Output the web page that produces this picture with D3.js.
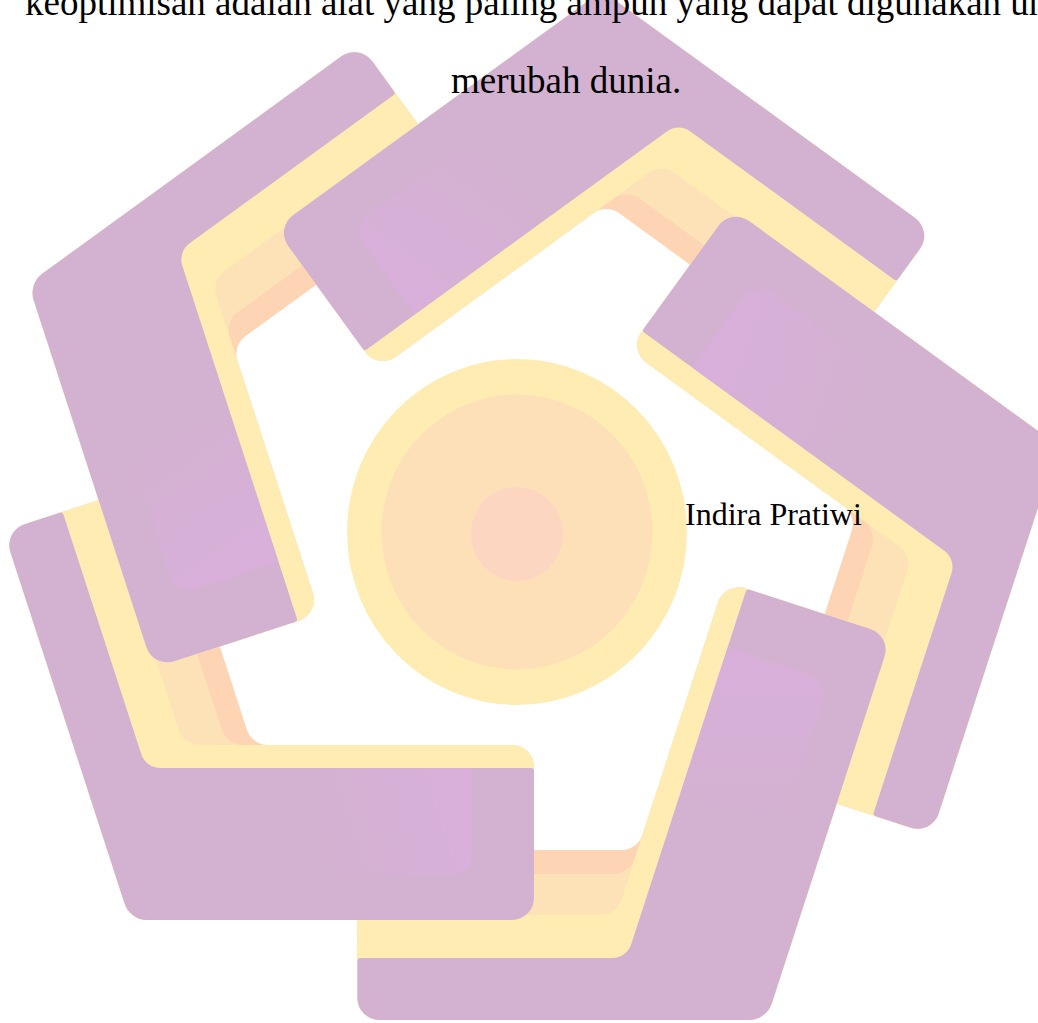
<!DOCTYPE html>
<html>
<head>
	<title>Logo watermark</title>
	<meta charset="utf-8">
	<script src="https://cdnjs.cloudflare.com/ajax/libs/d3/7.8.5/d3.min.js"></script>
	<style type="text/css">
		body { margin: 0; background: #fff; }
		text { font-family: "Liberation Serif", "Times New Roman", serif; fill: #000; }
	</style>
</head>
<body>
	<script type="text/javascript">

		// text on the page
		let quoteLines = ['keoptimisan adalah alat yang paling ampuh yang dapat digunakan untuk', 'merubah dunia.'];
		let authorName = 'Indira Pratiwi';

		// five bent bands, each one turned a fifth of a turn from the last
		let pieceAngles = [0, 72, 144, 216, 288];

		// band layers, back to front
		let layerNames = ['orange', 'peach', 'yellow', 'purple'];
		// rings of the centre disc
		let ringNames = ['ring', 'inner', 'core'];

		let width = 1038, height = 1023;
		let cx = 517, cy = 532;

		// geometry of one band (piece 0), relative to the centre
		let corner = [-387, 388];
		let thickLen = 404, thinLen = 409;
		let thickDepth = {orange: 175, peach: 175, yellow: 175, purple: 152};
		let thinDepth = {orange: 170, peach: 146, yellow: 105, purple: 62};
		let ringR = {ring: [170, 173], inner: [135.5, 137.5], core: [46, 47]};

		let color = d3.scaleOrdinal()
			.domain(layerNames.concat(ringNames))
			.range(['#fdd5b4', '#fde1b7', '#feecb3', '#d3b1d1', '#feecb3', '#fde0b8', '#fdd6c2']);

		let deg = Math.PI / 180;
		let v = [Math.cos(-108 * deg), Math.sin(-108 * deg)];   // direction of the thin arm
		let m = [Math.cos(-18 * deg), Math.sin(-18 * deg)];     // inward normal of the thin arm

		function bandPoints(bT, tT) {
			let C = corner;
			let a = (tT - bT * (-m[1])) / m[0];   // where the two inner edges meet
			return [
				C,
				[C[0] + thickLen, C[1]],
				[C[0] + thickLen, C[1] - bT],
				[C[0] + a, C[1] - bT],
				[C[0] + thinLen * v[0] + tT * m[0], C[1] + thinLen * v[1] + tT * m[1]],
				[C[0] + thinLen * v[0], C[1] + thinLen * v[1]]
			];
		}

		function roundedPath(pts, radii) {
			let p = d3.path();
			let n = pts.length;
			let last = pts[n - 1], first = pts[0];
			p.moveTo((last[0] + first[0]) / 2, (last[1] + first[1]) / 2);
			pts.forEach((q, i) => {
				let nx = pts[(i + 1) % n];
				p.arcTo(q[0], q[1], nx[0], nx[1], radii[i]);
			});
			p.closePath();
			return p.toString();
		}

		let svg = d3.select('body').append('svg')
			.attr('width', width)
			.attr('height', height);

		svg.append('rect').attr('width', width).attr('height', height).attr('fill', '#fff');

		let grad = svg.append('defs').append('linearGradient')
			.attr('id', 'glow')
			.attr('gradientUnits', 'userSpaceOnUse')
			.attr('x1', corner[0] + 190).attr('y1', corner[1] - 60)
			.attr('x2', corner[0] + 345).attr('y2', corner[1] - 110);
		grad.append('stop').attr('offset', 0).attr('stop-color', '#dbafde').attr('stop-opacity', 0);
		grad.append('stop').attr('offset', 1).attr('stop-color', '#dbafde').attr('stop-opacity', 0.7);

		let logo = svg.append('g').attr('transform', `translate(${cx},${cy})`);

		// centre disc
		logo.selectAll('ellipse.ring').data(ringNames)
			.enter().append('ellipse')
			.attr('class', 'ring')
			.attr('cx', 0)
			.attr('cy', d => d === 'core' ? 2 : 0)
			.attr('rx', d => ringR[d][0])
			.attr('ry', d => ringR[d][1])
			.attr('fill', d => color(d));

		// back layers of every band first, purple on top, so each band end lies over the next
		let back = logo.selectAll('g.back').data(pieceAngles)
			.enter().append('g')
			.attr('class', 'back')
			.attr('transform', d => `rotate(${d})`);

		back.selectAll('path').data(layerNames.slice(0, 3))
			.enter().append('path')
			.attr('d', d => roundedPath(bandPoints(thickDepth[d], thinDepth[d]), [24, 22, 22, 22, 4, 22]))
			.attr('fill', d => color(d));

		let front = logo.selectAll('g.front').data(pieceAngles)
			.enter().append('g')
			.attr('class', 'front')
			.attr('transform', d => `rotate(${d})`);

		front.append('path')
			.attr('d', roundedPath(bandPoints(thickDepth.purple, thinDepth.purple), [24, 22, 3, 20, 3, 22]))
			.attr('fill', color('purple'));

		// soft pink glow near the end of the thick arm
		let gx0 = corner[0] + 190, gx1 = corner[0] + 342;
		front.append('path')
			.attr('d', roundedPath([[gx0, corner[1] - 44], [gx1, corner[1] - 44], [gx1, corner[1] - 152], [gx0, corner[1] - 152]], [0, 22, 0, 0]))
			.attr('fill', 'url(#glow)');

		// text
		svg.append('text')
			.attr('x', 25).attr('y', 15)
			.attr('font-size', 37)
			.text(quoteLines[0]);

		svg.append('text')
			.attr('x', 451).attr('y', 93)
			.attr('font-size', 37)
			.text(quoteLines[1]);

		svg.append('text')
			.attr('x', 685).attr('y', 525)
			.attr('font-size', 32)
			.text(authorName);
	</script>
</body>
</html>
